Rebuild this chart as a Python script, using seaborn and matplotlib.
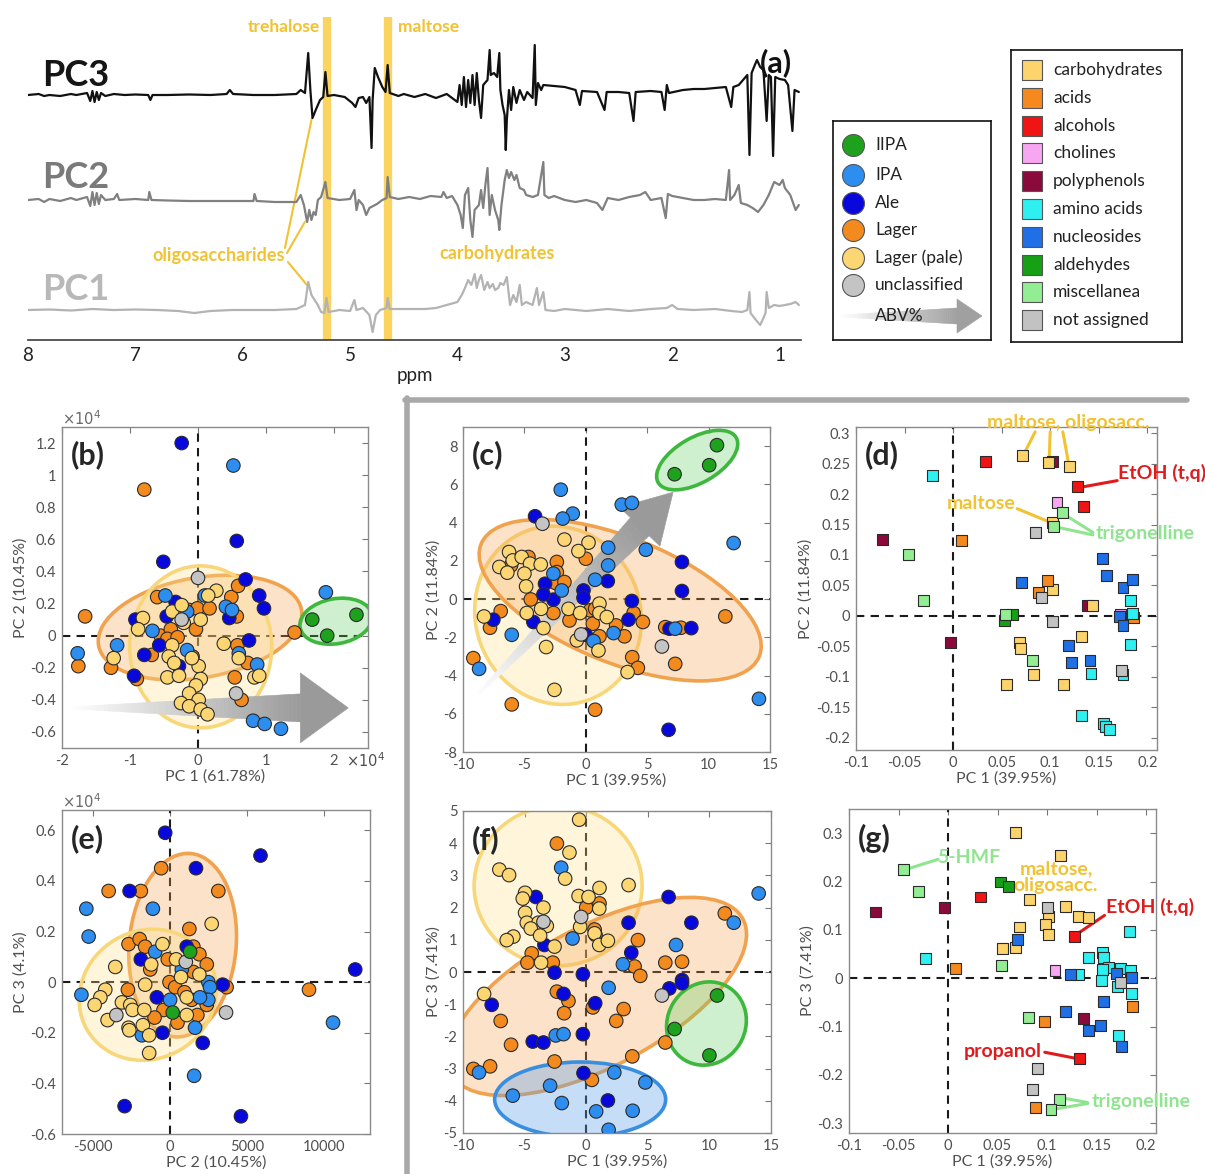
import numpy as np
import pandas as pd
import seaborn as sns
import matplotlib.pyplot as plt
import matplotlib.transforms as mtransforms
from matplotlib.colors import to_rgba, to_rgb
from matplotlib.patches import Ellipse, Polygon
from matplotlib.lines import Line2D
from matplotlib.ticker import MultipleLocator

W, H = 1205, 1174

# ---------------- panel (a): loading traces, (ppm, height above own baseline) ----------------
pc3_trace = [(8.0, 0), (7.9, 1), (7.85, -1), (7.8, 0), (7.7, -1), (7.6, 1), (7.55, 0), (7.45, 2), (7.42, -6),
             (7.40, 4), (7.38, -7), (7.36, 3), (7.34, -5), (7.32, 2), (7.28, -1), (7.2, 1), (7.1, 0), (7.0, 0.5),
             (6.88, 0), (6.86, -5), (6.84, 0), (6.7, 0), (6.5, 0.5), (6.3, 0), (6.15, 1), (6.12, 5), (6.09, 1),
             (5.9, 0), (5.7, 0), (5.5, 1), (5.46, 5), (5.42, 2), (5.39, 42), (5.37, 5), (5.35, -23), (5.32, -15),
             (5.28, -5), (5.25, -2), (5.23, 23), (5.21, -1), (5.15, 0), (5.05, -2), (4.98, -8), (4.95, -12),
             (4.92, -3), (4.88, -2), (4.85, -8), (4.82, -2), (4.80, -53), (4.79, -5), (4.77, 27), (4.74, 18),
             (4.70, 8), (4.67, 3), (4.65, 30), (4.63, 2), (4.55, -1), (4.5, 1), (4.4, -2), (4.3, 1), (4.2, -3),
             (4.1, 1), (4.05, -3), (4.0, -7), (3.98, 10), (3.96, -10), (3.94, 18), (3.92, -12), (3.90, 15),
             (3.88, -8), (3.86, 20), (3.84, -10), (3.82, 22), (3.80, -5), (3.78, -23), (3.76, 10), (3.72, 15),
             (3.70, 45), (3.69, 20), (3.66, 22), (3.63, 18), (3.61, 42), (3.60, 5), (3.58, -10), (3.56, -20),
             (3.55, -55), (3.54, -25), (3.52, 5), (3.50, -15), (3.48, 8), (3.45, -8), (3.42, 5), (3.38, -5),
             (3.35, 3), (3.30, -3), (3.28, 50), (3.27, -10), (3.25, 12), (3.22, 5), (3.2, 10), (3.1, 9), (3.0, 8),
             (2.9, 5), (2.86, -10), (2.84, 4), (2.7, 3), (2.63, -15), (2.61, 3), (2.5, 3), (2.4, 2), (2.36, -26),
             (2.34, 3), (2.2, 4), (2.1, 3), (2.07, -15), (2.05, 10), (2.03, 2), (1.9, 5), (1.8, 6), (1.7, 6),
             (1.6, 7), (1.5, 8), (1.45, -12), (1.43, 8), (1.38, 10), (1.34, 15), (1.30, 20), (1.28, -60),
             (1.26, 22), (1.23, 30), (1.21, 35), (1.18, 28), (1.15, 25), (1.12, -26), (1.10, 20), (1.08, 18),
             (1.06, -61), (1.04, 18), (1.0, 16), (0.95, 15), (0.92, 10), (0.88, -36), (0.86, 5), (0.82, 3)]
pc2_trace = [(8.0, 0), (7.9, 1), (7.85, -2), (7.8, 1), (7.7, -1), (7.6, 2), (7.55, 0), (7.45, 3), (7.42, -6),
             (7.40, 8), (7.38, -5), (7.36, 7), (7.34, -4), (7.32, 5), (7.28, 0), (7.2, 1), (7.17, 6), (7.15, 0),
             (7.0, 1), (6.88, 0), (6.87, 8), (6.85, 0), (6.7, -0.5), (6.5, -1), (6.3, -1), (6.1, -1), (5.9, -1),
             (5.89, 6), (5.87, -1), (5.7, -2), (5.5, -2), (5.46, 5), (5.43, -5), (5.40, -22), (5.38, -10),
             (5.36, -20), (5.34, -12), (5.32, -15), (5.30, 0), (5.27, 3), (5.23, 18), (5.21, 2), (5.1, 0), (5.0, 1),
             (4.96, 10), (4.94, -10), (4.92, 0), (4.88, -5), (4.85, -15), (4.82, -8), (4.75, -4), (4.70, 0),
             (4.66, 2), (4.65, 23), (4.63, 3), (4.55, 1), (4.45, 3), (4.35, 1), (4.25, 4), (4.15, 3), (4.13, 8),
             (4.10, 2), (4.05, 4), (4.0, -5), (3.97, -15), (3.95, -28), (3.93, 5), (3.90, 12), (3.88, -20),
             (3.86, -37), (3.84, -10), (3.80, -5), (3.78, 10), (3.76, -8), (3.74, 15), (3.72, 32), (3.70, -15),
             (3.68, 5), (3.65, -10), (3.62, -20), (3.61, -30), (3.59, -5), (3.56, 20), (3.54, 30), (3.52, 22),
             (3.50, 28), (3.47, 20), (3.45, 25), (3.42, 12), (3.38, 10), (3.36, 5), (3.30, 3), (3.25, 5),
             (3.20, 38), (3.19, 5), (3.15, 2), (3.1, 4), (3.0, 0), (2.9, -2), (2.8, 0), (2.7, -3), (2.65, -10),
             (2.6, 2), (2.5, 0), (2.4, 3), (2.3, 5), (2.25, 8), (2.2, 0), (2.1, 2), (2.06, -18), (2.04, 6),
             (2.0, 4), (1.9, 2), (1.8, 0), (1.7, 0), (1.6, 1), (1.5, 0), (1.47, 30), (1.46, 0), (1.42, 5),
             (1.38, 15), (1.36, -3), (1.30, -5), (1.25, -8), (1.2, -12), (1.15, -5), (1.1, 5), (1.05, 18),
             (1.0, 15), (0.97, 20), (0.95, 12), (0.9, 5), (0.85, -10), (0.82, -5)]
pc1_trace = [(8.0, 0), (7.8, 0.5), (7.6, -0.5), (7.4, 1), (7.2, 0), (7.0, 0.5), (6.8, 0), (6.6, -1), (6.45, -3),
             (6.3, -1), (6.1, 0), (5.9, 0), (5.7, 0), (5.5, 1), (5.42, 5), (5.39, 28), (5.36, 15), (5.33, 10),
             (5.30, 5), (5.27, -2), (5.24, -3), (5.22, 12), (5.20, -2), (5.1, 0), (5.0, -1), (4.96, 10), (4.94, 0),
             (4.88, 2), (4.82, -5), (4.79, -22), (4.76, -5), (4.72, 0), (4.66, 2), (4.65, 12), (4.63, 1), (4.5, 1),
             (4.3, 1), (4.2, 2), (4.1, 5), (4.0, 8), (3.96, 15), (3.93, 22), (3.90, 30), (3.87, 25), (3.84, 36),
             (3.82, 22), (3.80, 30), (3.78, 35), (3.75, 20), (3.72, 28), (3.70, 22), (3.67, 26), (3.65, 20),
             (3.62, 22), (3.60, 27), (3.57, 25), (3.54, 33), (3.51, 5), (3.48, 15), (3.45, 8), (3.42, 25),
             (3.40, 5), (3.36, 8), (3.30, 5), (3.26, 22), (3.24, 5), (3.20, 18), (3.18, 0), (3.1, -1), (3.0, 1),
             (2.9, 0), (2.8, -1), (2.6, 1), (2.4, -1), (2.2, 1), (2.05, 2), (2.0, 5), (1.95, 1), (1.8, 0), (1.6, 1),
             (1.45, -1), (1.35, -2), (1.30, 0), (1.28, 18), (1.27, -3), (1.22, -10), (1.18, -15), (1.15, -8),
             (1.13, -3), (1.12, 18), (1.10, 2), (1.05, 5), (1.0, 4), (0.95, 5), (0.9, 6), (0.85, 8), (0.82, 5)]
trace_names = ['PC3', 'PC2', 'PC1']
trace_colors = ['#111111', '#808080', '#b3b3b3']
band_ppm = [5.216, 4.648]
band_names = ['trehalose', 'maltose']

# ---------------- sample groups (scores) ----------------
groups = ['IIPA', 'IPA', 'Ale', 'Lager', 'Lager (pale)', 'unclassified']
group_colors = ['#1ea21e', '#2e8ef0', '#0808dc', '#f38a1d', '#fbd673', '#c4c4c4']

# (b) PC1 vs PC2, both x1e4
b_lager = [(-0.79, 0.91), (-1.66, 0.12), (-1.76, -0.19), (-1.28, -0.20), (-0.90, -0.27), (-0.60, 0.24),
           (-0.68, -0.12), (-0.55, 0.0), (-0.40, 0.04), (-0.45, -0.02), (-0.30, -0.01), (-0.08, -0.13),
           (-0.13, 0.16), (-0.01, 0.17), (-0.03, 0.04), (0.17, 0.17), (0.49, 0.24), (0.59, 0.31), (0.57, 0.12),
           (0.58, -0.06), (0.73, -0.17), (0.54, -0.26), (0.64, -0.40), (1.42, 0.02)]
b_ale = [(-0.24, 1.20), (0.57, 0.59), (-0.51, 0.46), (0.70, 0.35), (0.90, 0.25), (0.97, 0.17), (-0.33, 0.21),
         (-0.92, 0.10), (-0.46, 0.12), (0.46, 0.11), (-0.57, -0.06), (-0.79, -0.12), (-0.28, -0.19),
         (-0.94, -0.25), (0.75, -0.03)]
b_ipa = [(0.52, 1.06), (1.88, 0.27), (-0.48, 0.25), (0.10, 0.25), (0.41, 0.18), (0.50, 0.16), (-0.67, 0.03),
         (-1.19, -0.06), (-1.77, -0.11), (-0.16, -0.09), (0.87, -0.18), (0.60, -0.11), (0.81, -0.53),
         (0.98, -0.55), (1.22, -0.58), (-0.16, 0.15)]
b_pale = [(-0.81, 0.11), (-0.88, 0.04), (-1.24, -0.14), (-0.38, 0.15), (-0.24, 0.19), (0.04, 0.10), (0.27, 0.28),
          (0.15, 0.25), (-0.21, 0.08), (-0.38, -0.06), (-0.43, -0.13), (-0.35, -0.17), (-0.45, -0.26),
          (-0.28, -0.25), (0.01, -0.19), (0.38, -0.05), (0.60, -0.14), (0.83, -0.26), (0.90, -0.25), (0.04, -0.27),
          (-0.03, -0.31), (-0.13, -0.36), (0.01, -0.40), (-0.25, -0.42), (-0.13, -0.44), (0.04, -0.46),
          (0.14, -0.49), (-0.09, -0.14)]
b_uncl = [(0.0, 0.36), (-0.24, 0.10), (0.56, -0.36)]
b_iipa = [(1.68, 0.10), (1.90, 0.0), (2.33, 0.13)]

# (c) PC1 vs PC2
c_lager = [(-6.03, -5.51), (-9.16, -3.09), (-7.80, -1.50), (-6.93, -0.63), (-6.09, 1.76), (-4.67, 2.20),
           (-2.36, 1.94), (-2.36, 1.41), (-2.45, 0.84), (-1.74, 0.89), (-4.48, -0.02), (-2.64, -0.73),
           (-1.33, -1.12), (0.0, 2.11), (0.35, -0.59), (0.57, -1.29), (1.11, -1.95), (2.47, -1.38), (3.15, -1.95),
           (3.89, -0.73), (4.65, -1.20), (6.47, -1.47), (7.74, -1.50), (3.78, -3.04), (4.24, -3.60), (7.28, -3.39),
           (11.36, -0.91), (0.76, -5.79), (0.76, -0.51)]
c_ale = [(-4.13, 4.33), (-3.32, 0.80), (-2.64, -0.03), (-3.45, 0.24), (-0.19, 0.45), (-0.19, 0.07),
         (-4.27, -1.20), (-7.53, -1.08), (1.79, 0.94), (3.75, -0.10), (3.48, -1.08), (7.83, 1.94), (7.83, 0.42),
         (8.59, -1.52), (6.82, -1.55), (6.74, -6.84), (0.0, -1.87)]
c_ipa = [(-2.04, 5.72), (-1.06, 4.47), (-1.88, 4.21), (2.93, 4.94), (3.75, 5.03), (4.89, 2.58), (1.82, 2.69),
         (1.82, 1.76), (0.76, 1.01), (12.04, 2.93), (14.1, -5.22), (-8.69, -3.65), (-6.03, -1.87), (2.26, -1.78),
         (0.63, -2.20), (7.28, -1.55), (-2.64, 1.33), (-1.96, 0.45)]
c_pale = [(-1.74, 3.11), (0.22, 2.95), (-0.60, 2.51), (-6.25, 2.46), (-5.95, 2.02), (-7.04, 1.68), (-6.39, 1.38),
          (-5.22, 2.20), (-4.54, 1.85), (-3.67, 1.81), (-5.0, 1.33), (-4.86, 0.66), (-8.29, -0.91), (-4.81, -0.73),
          (-3.64, -0.51), (-3.45, -1.52), (-3.23, -2.51), (-1.41, -0.51), (-0.46, -0.73), (1.11, -0.24),
          (1.11, -0.73), (1.71, -0.94), (-0.73, -2.16), (1.03, -2.69), (3.40, -3.82), (-2.55, -4.75)]
c_uncl = [(-3.53, 3.94), (-0.38, -1.85), (6.20, -2.48)]
c_iipa = [(7.23, 6.53), (10.05, 7.0), (10.68, 8.05)]

# (e) PC2 vs PC3 (PC3 x1e4)
e_lager = [(-3970, 0.36), (-1880, 0.36), (-560, 0.45), (3150, 0.36), (1270, 0.21), (-2680, 0.15), (-1960, 0.17),
           (-1600, 0.14), (-1270, 0.05), (-130, 0.09), (1530, 0.14), (1920, 0.11), (2400, 0.07), (-20, 0.0),
           (350, -0.02), (950, -0.04), (1530, 0.04), (-2720, -0.03), (3690, -0.02), (9040, -0.03), (-410, -0.11),
           (-990, -0.14), (500, -0.16), (1790, -0.13), (2400, -0.09), (1420, -0.07)]
e_ale = [(-300, 0.59), (5890, 0.50), (1700, 0.45), (-2610, 0.36), (12040, 0.05), (-1880, 0.09), (1100, 0.14),
         (-475, -0.20), (2140, -0.24), (-2935, -0.49), (4620, -0.53), (3430, -0.01), (-840, -0.06)]
e_ipa = [(-5420, 0.29), (-5270, 0.18), (-1100, 0.29), (-5740, -0.05), (-950, 0.12), (780, 0.05), (1580, -0.37),
         (10600, -0.16), (1640, -0.18), (-1810, -0.21), (20, -0.07), (2500, 0.0), (2610, -0.02), (2500, -0.07),
         (1960, -0.06)]
e_pale = [(2720, 0.23), (-475, 0.15), (-1210, 0.07), (-3540, 0.06), (-1600, -0.01), (-4190, -0.03), (-4510, -0.06),
          (-4880, -0.09), (-3110, -0.08), (-2570, -0.09), (-2420, -0.11), (-1660, -0.11), (-4040, -0.15),
          (-2680, -0.18), (-2630, -0.19), (-1750, -0.17), (-1340, -0.21), (-1340, -0.28), (410, 0.09), (730, 0.02),
          (1920, 0.03), (1100, -0.06), (1100, -0.13)]
e_uncl = [(1040, 0.08), (-3470, -0.13), (3650, -0.12)]
e_iipa = [(1320, 0.12), (190, -0.12)]

# (f) PC1 vs PC3
f_lager = [(-2.38, 3.99), (0.0, 2.0), (1.08, 2.13), (0.68, 1.32), (0.76, 1.15), (4.20, 0.99), (3.93, 0.17),
           (4.39, -0.12), (6.42, 0.29), (7.78, 0.32), (11.25, 1.82), (-4.42, 0.58), (-4.77, 0.29), (-2.71, 0.29),
           (-2.38, -0.61), (-1.44, -0.90), (-1.79, -1.28), (-6.94, -1.52), (-6.10, -2.26), (-9.16, -3.01),
           (-7.80, -2.93), (-2.57, -2.78), (0.54, -1.10), (3.04, -1.15), (2.44, -1.52), (3.74, -2.62),
           (6.42, -2.19), (0.46, -3.35)]
f_ale = [(-4.09, 2.33), (-3.39, 0.84), (-2.57, -0.02), (-0.27, -0.07), (3.44, 1.53), (3.66, 0.60), (6.69, 2.33),
         (8.54, 1.53), (7.78, -0.25), (7.78, -0.35), (6.75, -0.51), (-1.84, -0.68), (-7.67, -1.02), (-4.34, -2.16),
         (-3.47, -2.19), (-0.27, -1.93), (-0.22, -3.14), (1.76, -3.99), (0.73, -0.97)]
f_ipa = [(-2.03, 3.24), (14.0, 2.44), (11.98, 1.53), (7.29, 0.84), (-1.11, 1.04), (2.98, 0.24), (1.82, -0.49),
         (-2.47, -1.97), (-1.84, -1.93), (-8.70, -3.12), (2.28, -3.12), (4.80, -3.43), (-2.93, -3.53),
         (-5.96, -3.84), (-1.98, -4.07), (0.81, -4.33), (3.77, -4.31), (1.82, -4.90)]
f_pale = [(-0.57, 4.73), (-1.36, 3.71), (-7.05, 3.18), (-6.26, 3.01), (-1.71, 2.90), (1.08, 2.61), (3.44, 2.70),
          (-4.96, 2.46), (-5.15, 2.28), (-0.62, 2.36), (0.19, 2.33), (1.06, 1.97), (-4.96, 1.84), (-3.47, 2.0),
          (-4.82, 1.53), (-3.88, 1.53), (-3.20, 1.43), (-4.50, 1.35), (-3.74, 1.13), (-5.91, 1.10), (-6.45, 0.99),
          (-0.49, 1.40), (0.68, 1.20), (1.06, 0.84), (1.76, 0.97), (-2.57, 0.79), (-3.66, 0.29), (-8.29, -0.68)]
f_uncl = [(-0.41, 1.71), (-3.47, 1.56), (6.15, -0.73)]
f_iipa = [(10.62, -0.73), (7.18, -1.77), (10.0, -2.59)]

# ---------------- variable classes (loadings) ----------------
classes = ['carbohydrates', 'acids', 'alcohols', 'cholines', 'polyphenols', 'amino acids', 'nucleosides',
           'aldehydes', 'miscellanea', 'not assigned']
class_colors = ['#fdd36b', '#f5891e', '#f01414', '#f7a6f2', '#8a0a3c', '#2ef0f0', '#1f6fe6', '#15a015',
                '#93ee93', '#c2c2c2']

# (d) PC1 vs PC2 loadings
d_poly = [(-0.073, 0.126), (-0.003, -0.043), (0.138, 0.017), (0.102, 0.254)]
d_carb = [(0.071, 0.263), (0.098, 0.252), (0.120, 0.245), (0.102, 0.153), (0.102, 0.043), (0.144, 0.017),
          (0.068, -0.043), (0.069, -0.054), (0.055, -0.112), (0.083, -0.096), (0.114, -0.112), (0.132, -0.034)]
d_acid = [(0.009, 0.124), (0.097, 0.058), (0.088, 0.038), (0.186, -0.002)]
d_alc = [(0.033, 0.254), (0.128, 0.213), (0.134, 0.179)]
d_chol = [(0.107, 0.186), (0.172, 0.003)]
d_amino = [(-0.021, 0.230), (0.183, 0.026), (0.185, 0.004), (0.183, -0.047), (0.142, -0.095), (0.175, -0.096),
           (0.132, -0.164), (0.155, -0.177), (0.157, -0.181), (0.161, -0.186)]
d_nucl = [(0.154, 0.094), (0.158, 0.066), (0.175, 0.047), (0.185, 0.059), (0.070, 0.055), (0.171, -0.001),
          (0.175, -0.016), (0.119, -0.049), (0.122, -0.076), (0.141, -0.073)]
d_ald = [(0.061, 0.003), (0.053, -0.008)]
d_misc = [(-0.046, 0.101), (-0.030, 0.025), (0.113, 0.169), (0.103, 0.147), (0.054, 0.003), (0.082, -0.073)]
d_na = [(0.085, 0.137), (0.091, 0.031), (0.102, -0.009), (0.173, -0.089)]

# (g) PC1 vs PC3 loadings
g_poly = [(-0.073, 0.137), (-0.004, 0.147), (0.137, -0.084)]
g_carb = [(0.068, 0.302), (0.114, 0.254), (0.082, 0.162), (0.101, 0.128), (0.119, 0.148), (0.132, 0.128),
          (0.142, 0.125), (0.072, 0.106), (0.098, 0.112), (0.101, 0.090), (0.055, 0.061), (0.068, 0.064)]
g_acid = [(0.008, 0.021), (0.186, -0.058), (0.097, -0.089), (0.088, -0.267)]
g_alc = [(0.033, 0.168), (0.128, 0.086), (0.133, -0.165)]
g_chol = [(0.108, 0.016)]
g_amino = [(-0.023, 0.041), (0.183, 0.097), (0.142, 0.042), (0.156, 0.054), (0.157, 0.042), (0.162, 0.023),
           (0.156, 0.019), (0.132, 0.007), (0.174, 0.021), (0.184, 0.016), (0.155, -0.005), (0.171, -0.017),
           (0.185, -0.032), (0.172, -0.119)]
g_nucl = [(0.070, 0.081), (0.124, 0.008), (0.170, 0.009), (0.185, 0.002), (0.157, -0.048), (0.119, -0.069),
          (0.142, -0.108), (0.154, -0.097), (0.175, -0.141)]
g_ald = [(0.053, 0.199), (0.061, 0.190)]
g_misc = [(-0.045, 0.224), (-0.030, 0.180), (0.054, 0.026), (0.081, -0.081), (0.113, -0.250), (0.104, -0.272)]
g_na = [(0.100, 0.147), (0.090, -0.186), (0.085, -0.230), (0.174, -0.008)]

YEL, RED, LGRN = '#f1c232', '#e01b1b', '#8fe58f'
ANN = 14  # annotation font size

sns.set_theme(style='white')
plt.rcParams['font.family'] = ['Lato', 'DejaVu Sans']
plt.rcParams['axes.unicode_minus'] = False

fig = plt.figure(figsize=(W / 100, H / 100), dpi=100)


def px_axes(l, t, r, b):
    return fig.add_axes([l / W, 1 - b / H, (r - l) / W, (b - t) / H])


def ftext(x, y, s, **kw):
    return fig.text(x / W, 1 - y / H, s, **kw)


def frame(parts):
    rows = [(x, y, name) for name, pts in parts for x, y in pts]
    return pd.DataFrame(rows, columns=['x', 'y', 'group'])


def style(ax, xlim, ylim, xt, yt, xlab, ylab):
    ax.set_xlim(xlim)
    ax.set_ylim(ylim)
    ax.set_xticks(xt)
    ax.set_xticklabels(['%g' % v for v in xt])
    ax.set_yticks(yt)
    ax.set_yticklabels(['%g' % v for v in yt])
    ax.tick_params(direction='in', top=True, right=True, length=4, width=0.8, color='#777777',
                   labelcolor='#505050', labelsize=10.5, pad=4)
    for s in ax.spines.values():
        s.set_color('#8a8a8a')
        s.set_linewidth(1)
    ax.set_xlabel(xlab, fontsize=11.5, color='#505050', labelpad=1)
    ax.set_ylabel(ylab, fontsize=11.5, color='#505050', labelpad=2)
    ax.axhline(0, color='k', ls=(0, (4, 3)), lw=1.5, zorder=1)
    ax.axvline(0, color='k', ls=(0, (4, 3)), lw=1.5, zorder=1)


def ellipse(ax, cx, cy, w, h, ang, col, edge, alpha=0.3):
    tr = fig.dpi_scale_trans + mtransforms.ScaledTranslation(cx, cy, ax.transData)
    ax.add_patch(Ellipse((0, 0), w / 100, h / 100, angle=ang, transform=tr, fc=to_rgba(col, alpha),
                         ec=edge, lw=2.6, zorder=1.5))


def grad_arrow(ax, tail, tip, shaft_w, head_w, head_len, c0='#ffffff', c1='#9a9a9a', n=60, z=2):
    p0 = ax.transData.transform(tail)
    p1 = ax.transData.transform(tip)
    d = p1 - p0
    u = d / np.hypot(*d)
    nr = np.array([-u[1], u[0]])
    base = p1 - u * head_len
    a0, a1 = np.array(to_rgb(c0)), np.array(to_rgb(c1))
    idt = mtransforms.IdentityTransform()
    for i in range(n):
        ta, tb = i / n, (i + 1) / n
        pa, pb = p0 + (base - p0) * ta, p0 + (base - p0) * tb
        wa, wb = 1 + (shaft_w - 1) * ta, 1 + (shaft_w - 1) * tb
        col = a0 + (a1 - a0) * (ta + tb) / 2
        ax.add_patch(Polygon([pa + nr * wa, pb + nr * wb, pb - nr * wb, pa - nr * wa], closed=True,
                             fc=col, ec=col, lw=0.4, transform=idt, zorder=z, clip_on=False))
    ax.add_patch(Polygon([base + nr * head_w, p1, base - nr * head_w], closed=True, fc=a1, ec=a1,
                         lw=0.4, transform=idt, zorder=z, clip_on=False))


gpal = dict(zip(groups, group_colors))
cpal = dict(zip(classes, class_colors))

# ================= (a) spectra =================
ax_a = px_axes(28, 10, 801, 340)
for tr, base, col in zip([pc3_trace, pc2_trace, pc1_trace], [245, 140, 30], trace_colors):
    d = pd.DataFrame(tr, columns=['ppm', 'val'])
    d['y'] = d['val'] + base
    sns.lineplot(data=d, x='ppm', y='y', sort=False, estimator=None, color=col, lw=1.6, ax=ax_a, zorder=3)
ax_a.vlines(band_ppm, 0, 323, colors='#fad45e', lw=6, zorder=1)
ax_a.set_xlim(8, 0.8)
ax_a.set_ylim(0, 330)
ax_a.set_xticks(range(1, 9))
ax_a.set_xticklabels([str(v) for v in range(1, 9)])
ax_a.xaxis.set_minor_locator(MultipleLocator(0.2))
ax_a.tick_params(axis='x', which='major', direction='in', length=7, width=1, color='#444444',
                 labelsize=13.5, labelcolor='#222222', pad=5)
ax_a.tick_params(axis='x', which='minor', direction='in', length=3.5, width=0.8, color='#444444')
ax_a.set_yticks([])
for s in ['top', 'left', 'right']:
    ax_a.spines[s].set_visible(False)
ax_a.spines['bottom'].set_color('#444444')
ax_a.set_xlabel('ppm', fontsize=13.5, color='#222222', labelpad=2)
ax_a.set_ylabel('')
for name, yy, col in zip(trace_names, [265, 162, 50], ['#151515', '#7a7a7a', '#b8b8b8']):
    ax_a.text(7.87, yy, name, fontsize=26, fontweight='bold', color=col, va='center', ha='left')
ax_a.text(band_ppm[0] + 0.06, 313, band_names[0], color=YEL, fontsize=12.5, fontweight='bold', ha='right',
          va='center')
ax_a.text(band_ppm[1] - 0.09, 313, band_names[1], color=YEL, fontsize=12.5, fontweight='bold', ha='left',
          va='center')
ax_a.text(6.22, 85, 'oligosaccharides', color=YEL, fontsize=13, fontweight='bold', ha='center', va='center')
ax_a.text(3.63, 86, 'carbohydrates', color=YEL, fontsize=13, fontweight='bold', ha='center', va='center')
for (x0, y0), (x1, y1) in [((5.607, 92), (5.356, 222)), ((5.588, 87), (5.421, 118)), ((5.579, 78), (5.402, 55))]:
    ax_a.plot([x0, x1], [y0, y1], color=YEL, lw=1.5, zorder=2)
ax_a.text(1.18, 277, '(a)', fontsize=22, fontweight='bold', color='#111111', ha='left', va='center', zorder=5)

# ================= legends =================
lg1 = px_axes(833, 121, 991, 340)
lg1.set_xlim(833, 991)
lg1.set_ylim(340, 121)
for i, (g, c) in enumerate(zip(groups, group_colors)):
    yy = [145, 175, 203, 230, 258, 285][i]
    lg1.scatter([853], [yy], s=250, color=c, edgecolor='#555555', linewidth=0.8, zorder=3)
    lg1.text(875, yy, g, fontsize=12.5, color='#222222', va='center', ha='left')
grad_arrow(lg1, (840, 316), (982, 316), 8, 17, 25, c0='#ffffff', c1='#a0a0a0')
lg1.text(875, 316, 'ABV%', fontsize=12.5, color='#222222', va='center', ha='left', zorder=5)
lg2 = px_axes(1011, 50, 1182, 342)
lg2.set_xlim(1011, 1182)
lg2.set_ylim(342, 50)
for i, (c, col) in enumerate(zip(classes, class_colors)):
    yy = 70 + i * 27.8
    lg2.scatter([1032], [yy], s=220, marker='s', color=col, edgecolor='#555555', linewidth=0.8, zorder=3)
    lg2.text(1053, yy, c, fontsize=12.5, color='#222222', va='center', ha='left')
for lg in (lg1, lg2):
    lg.set_xticks([])
    lg.set_yticks([])
    for s in lg.spines.values():
        s.set_color('#111111')
        s.set_linewidth(1.2)

# ================= gray frame =================
fig.add_artist(Line2D([405 / W, 1187 / W], [1 - 400 / H, 1 - 400 / H], color='#a9a9a9', lw=4))
fig.add_artist(Line2D([407 / W, 407 / W], [1 - 398 / H, 0], color='#a9a9a9', lw=4))

score_kw = dict(palette=gpal, s=95, edgecolor='#2b2b2b', linewidth=0.8, legend=False, zorder=4)
load_kw = dict(palette=cpal, marker='s', s=62, edgecolor='#2b2b2b', linewidth=0.8, legend=False, zorder=4)

# ================= (b) =================
ax_b = px_axes(62, 427, 368, 748)
sns.scatterplot(data=frame([('Lager', b_lager), ('Ale', b_ale), ('IPA', b_ipa), ('Lager (pale)', b_pale),
                            ('unclassified', b_uncl), ('IIPA', b_iipa)]), x='x', y='y', hue='group', ax=ax_b,
                **score_kw)
style(ax_b, (-2, 2.5), (-0.7, 1.3), [-2, -1, 0, 1, 2], [-0.6, -0.4, -0.2, 0, 0.2, 0.4, 0.6, 0.8, 1, 1.2],
      'PC 1 (61.78%)', 'PC 2 (10.45%)')
ellipse(ax_b, 0.03, 0.05, 206, 100, 10, '#f7a04a', '#f0a24e', 0.3)
ellipse(ax_b, 0.04, -0.07, 142, 162, 0, '#fde08a', '#f8d77a', 0.3)
ellipse(ax_b, 2.03, 0.09, 73, 45, 10, '#5fcf5f', '#3db83d', 0.3)
grad_arrow(ax_b, (-1.88, -0.45), (2.21, -0.45), 14, 35, 48)
ftext(62, 419, r'$\times10^{4}$', fontsize=10.5, color='#6a6a6a', va='center', ha='left')
ftext(346, 761, r'$\times10^{4}$', fontsize=10.5, color='#505050', va='center', ha='left')
ax_b.text(0.03, 0.915, '(b)', transform=ax_b.transAxes, fontsize=22, fontweight='bold', va='center')

# ================= (c) =================
ax_c = px_axes(463, 427, 770, 752)
sns.scatterplot(data=frame([('Lager', c_lager), ('Ale', c_ale), ('IPA', c_ipa), ('Lager (pale)', c_pale),
                            ('unclassified', c_uncl), ('IIPA', c_iipa)]), x='x', y='y', hue='group', ax=ax_c,
                **score_kw)
style(ax_c, (-10, 15), (-8, 9), [-10, -5, 0, 5, 10, 15], list(range(-8, 9, 2)), 'PC 1 (39.95%)', 'PC 2 (11.84%)')
ellipse(ax_c, -2.26, -0.85, 165, 180, 20, '#fde08a', '#f8d77a', 0.3)
ellipse(ax_c, 2.8, -0.06, 300, 125, -22, '#f7a04a', '#f0a24e', 0.3)
ellipse(ax_c, 9.07, 7.27, 90, 45, 30, '#5fcf5f', '#3db83d', 0.3)
grad_arrow(ax_c, (-8.86, -5.04), (7.11, 5.59), 13, 28, 48)
ax_c.text(0.03, 0.915, '(c)', transform=ax_c.transAxes, fontsize=22, fontweight='bold', va='center')

# ================= (d) =================
ax_d = px_axes(856, 427, 1157, 750)
sns.scatterplot(data=frame([('polyphenols', d_poly), ('carbohydrates', d_carb), ('acids', d_acid),
                            ('alcohols', d_alc), ('cholines', d_chol), ('amino acids', d_amino),
                            ('nucleosides', d_nucl), ('aldehydes', d_ald), ('miscellanea', d_misc),
                            ('not assigned', d_na)]), x='x', y='y', hue='group', ax=ax_d, **load_kw)
style(ax_d, (-0.1, 0.21), (-0.22, 0.31), [-0.1, -0.05, 0, 0.05, 0.1, 0.15, 0.2],
      [-0.2, -0.15, -0.1, -0.05, 0, 0.05, 0.1, 0.15, 0.2, 0.25, 0.3], 'PC 1 (39.95%)', 'PC 2 (11.84%)')
ax_d.text(0.1186, 0.318, 'maltose, oligosacc.', color=YEL, fontsize=ANN, fontweight='bold', ha='center',
          va='center', clip_on=False)
for (x0, y0), (x1, y1) in [((0.0845, 0.302), (0.073, 0.266)), ((0.100, 0.302), (0.099, 0.258)),
                           ((0.113, 0.302), (0.119, 0.250))]:
    ax_d.plot([x0, x1], [y0, y1], color=YEL, lw=2.2, zorder=3, clip_on=False)
ax_d.text(0.170, 0.234, 'EtOH (t,q)', color=RED, fontsize=ANN, fontweight='bold', ha='left', va='center',
          clip_on=False)
ax_d.plot([0.131, 0.169], [0.211, 0.222], color=RED, lw=2.2, zorder=3, clip_on=False)
ax_d.text(0.029, 0.1845, 'maltose', color=YEL, fontsize=ANN, fontweight='bold', ha='center', va='center')
ax_d.plot([0.066, 0.101], [0.176, 0.153], color=YEL, lw=2.2, zorder=3)
ax_d.text(0.1464, 0.135, 'trigonelline', color=LGRN, fontsize=ANN, fontweight='bold', ha='left', va='center',
          clip_on=False)
ax_d.plot([0.144, 0.113], [0.137, 0.168], color=LGRN, lw=2.2, zorder=3)
ax_d.plot([0.144, 0.103], [0.133, 0.147], color=LGRN, lw=2.2, zorder=3)
ax_d.text(0.03, 0.915, '(d)', transform=ax_d.transAxes, fontsize=22, fontweight='bold', va='center')

# ================= (e) =================
ax_e = px_axes(62, 810, 370, 1134)
sns.scatterplot(data=frame([('Lager', e_lager), ('Ale', e_ale), ('IPA', e_ipa), ('Lager (pale)', e_pale),
                            ('unclassified', e_uncl), ('IIPA', e_iipa)]), x='x', y='y', hue='group', ax=ax_e,
                **score_kw)
style(ax_e, (-7000, 13000), (-0.6, 0.68), [-5000, 0, 5000, 10000], [-0.6, -0.4, -0.2, 0, 0.2, 0.4, 0.6],
      'PC 2 (10.45%)', 'PC 3 (4.1%)')
ellipse(ax_e, 833, 0.146, 107, 184, -5, '#f7a04a', '#f0a24e', 0.3)
ellipse(ax_e, -1436, -0.05, 140, 128, 30, '#fde08a', '#f8d77a', 0.3)
ftext(62, 802, r'$\times10^{4}$', fontsize=10.5, color='#6a6a6a', va='center', ha='left')
ax_e.text(0.03, 0.91, '(e)', transform=ax_e.transAxes, fontsize=22, fontweight='bold', va='center')

# ================= (f) =================
ax_f = px_axes(463, 811, 771, 1133)
sns.scatterplot(data=frame([('Lager', f_lager), ('Ale', f_ale), ('IPA', f_ipa), ('Lager (pale)', f_pale),
                            ('unclassified', f_uncl), ('IIPA', f_iipa)]), x='x', y='y', hue='group', ax=ax_f,
                **score_kw)
style(ax_f, (-10, 15), (-5, 5), [-10, -5, 0, 5, 10, 15], list(range(-5, 6)), 'PC 1 (39.95%)', 'PC 3 (7.41%)')
ellipse(ax_f, -2.28, 2.68, 168, 160, 0, '#fde08a', '#f8d77a', 0.3)
ellipse(ax_f, 0.89, -0.76, 330, 140, 28, '#f7a04a', '#f0a24e', 0.3)
ellipse(ax_f, 9.76, -1.6, 85, 78, 60, '#5fcf5f', '#3db83d', 0.3)
ellipse(ax_f, -0.49, -3.96, 171, 75, 0, '#5a9fea', '#3a8ee0', 0.35)
ax_f.text(0.03, 0.91, '(f)', transform=ax_f.transAxes, fontsize=22, fontweight='bold', va='center')

# ================= (g) =================
ax_g = px_axes(849, 809, 1156, 1133)
sns.scatterplot(data=frame([('polyphenols', g_poly), ('carbohydrates', g_carb), ('acids', g_acid),
                            ('alcohols', g_alc), ('cholines', g_chol), ('amino acids', g_amino),
                            ('nucleosides', g_nucl), ('aldehydes', g_ald), ('miscellanea', g_misc),
                            ('not assigned', g_na)]), x='x', y='y', hue='group', ax=ax_g, **load_kw)
style(ax_g, (-0.1, 0.21), (-0.32, 0.35), [-0.1, -0.05, 0, 0.05, 0.1, 0.15, 0.2],
      [-0.3, -0.2, -0.1, 0, 0.1, 0.2, 0.3], 'PC 1 (39.95%)', 'PC 3 (7.41%)')
ax_g.text(-0.011, 0.250, '5-HMF', color=LGRN, fontsize=ANN, fontweight='bold', ha='left', va='center')
ax_g.plot([-0.041, -0.010], [0.226, 0.246], color=LGRN, lw=2.2, zorder=3)
ax_g.text(0.109, 0.209, 'maltose,\noligosacc.', color=YEL, fontsize=ANN, fontweight='bold', ha='center',
          va='center', linespacing=0.95)
ax_g.text(0.160, 0.147, 'EtOH (t,q)', color=RED, fontsize=ANN, fontweight='bold', ha='left', va='center',
          clip_on=False)
ax_g.plot([0.130, 0.158], [0.091, 0.130], color=RED, lw=2.2, zorder=3)
ax_g.text(0.0947, -0.151, 'propanol', color=RED, fontsize=ANN, fontweight='bold', ha='right', va='center')
ax_g.plot([0.0977, 0.130], [-0.153, -0.166], color=RED, lw=2.2, zorder=3)
ax_g.text(0.145, -0.255, 'trigonelline', color=LGRN, fontsize=ANN, fontweight='bold', ha='left', va='center',
          clip_on=False)
ax_g.plot([0.141, 0.117], [-0.257, -0.248], color=LGRN, lw=2.2, zorder=3)
ax_g.plot([0.141, 0.106], [-0.259, -0.271], color=LGRN, lw=2.2, zorder=3)
ax_g.text(0.03, 0.91, '(g)', transform=ax_g.transAxes, fontsize=22, fontweight='bold', va='center')

fig.savefig('out.png', dpi=100)
